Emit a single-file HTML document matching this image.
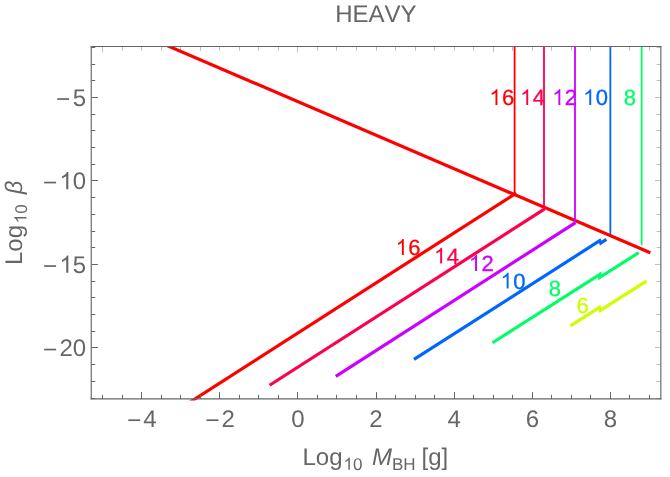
<!DOCTYPE html><html><head><meta charset="utf-8"><style>html,body{margin:0;padding:0;background:#fff;overflow:hidden;}svg{display:block;position:absolute;left:0;top:0;will-change:transform;}text{font-family:"Liberation Sans",sans-serif;text-rendering:geometricPrecision;font-kerning:none;}</style></head><body>
<svg width="670" height="477" viewBox="0 0 670 477">
<rect width="670" height="477" fill="#fff"/>
<defs><clipPath id="c"><rect x="91.3" y="45.9" width="569.4000000000001" height="354.6"/></clipPath></defs>
<g clip-path="url(#c)" fill="none" stroke-linejoin="miter" stroke-miterlimit="4" stroke-linecap="butt">
<path d="M610.35 40V234.90" stroke="#0066ff" stroke-width="1.8"/>
<path d="M641.65 40V245.3" stroke="#00ff66" stroke-width="1.8"/>
<path d="M150 38.21L650.3 252.83" stroke="#ff0000" stroke-width="3.2"/>
<path d="M180 408.58L516.2 193.08" stroke="#ff0000" stroke-width="3.2"/>
<path d="M514.6 40V194.10" stroke="#ff0000" stroke-width="1.8"/>
<path d="M269.6 385.25L544.7 208.91" stroke="#ff004d" stroke-width="3.2"/>
<path d="M544 40V209.16" stroke="#ff004d" stroke-width="1.8"/>
<path d="M335.8 376.3L575.5 222.65" stroke="#cc00ff" stroke-width="3.2"/>
<path d="M575 40V222.17" stroke="#cc00ff" stroke-width="1.8"/>
<path d="M414 359.4L599.7 240.74L600.7 243.10L606.4 239.46" stroke="#0066ff" stroke-width="3.2"/>
<path d="M492.5 342.75L599.8 274.45L599.8 277.45L638.7 252.69" stroke="#00ff66" stroke-width="3.2"/>
<path d="M570.4 325.8L599.5 307.28L600.3 310.47L646.4 281.13" stroke="#ccff00" stroke-width="3.2"/>
</g>
<g stroke="#666666" fill="none">
<path d="M91.25 46V399.55" stroke-width="1.15"/><path d="M90.7 398.95H661.45" stroke-width="1.25"/><path d="M90.7 46.5H661.4" stroke-width="1.0"/><path d="M660.85 46V399.5" stroke-width="1.15"/>
<path d="M102.50 399v-4.2M122.50 399v-4.2M141.50 399v-6.8999999999999995M161.50 399v-4.2M180.50 399v-4.2M200.50 399v-4.2M219.50 399v-6.8999999999999995M239.50 399v-4.2M258.50 399v-4.2M278.50 399v-4.2M297.50 399v-6.8999999999999995M317.50 399v-4.2M336.50 399v-4.2M356.50 399v-4.2M376.50 399v-6.8999999999999995M395.50 399v-4.2M415.50 399v-4.2M434.50 399v-4.2M454.50 399v-6.8999999999999995M473.50 399v-4.2M493.50 399v-4.2M512.50 399v-4.2M532.50 399v-6.8999999999999995M551.50 399v-4.2M571.50 399v-4.2M590.50 399v-4.2M610.50 399v-6.8999999999999995M629.50 399v-4.2M649.50 399v-4.2" stroke-width="1.0"/>
<path d="M102.50 46.4v5.90M122.50 46.4v4.40M141.50 46.4v4.40M161.50 46.4v4.40M180.50 46.4v4.40M200.50 46.4v4.40M219.50 46.4v4.40M239.50 46.4v4.40M258.50 46.4v4.40M278.50 46.4v4.40M297.50 46.4v5.90M317.50 46.4v4.40M336.50 46.4v4.40M356.50 46.4v4.40M376.50 46.4v4.40M395.50 46.4v4.40M415.50 46.4v4.40M434.50 46.4v4.40M454.50 46.4v4.40M473.50 46.4v4.40M493.50 46.4v5.90M512.50 46.4v4.40M532.50 46.4v4.40M551.50 46.4v4.40M571.50 46.4v4.40M590.50 46.4v4.40M610.50 46.4v4.40M629.50 46.4v4.40M649.50 46.4v4.40" stroke-width="0.42"/>
<path d="M91.3 398.50h3.9M91.3 381.50h3.9M91.3 364.50h3.9M91.3 347.50h6.6M91.3 331.50h3.9M91.3 314.50h3.9M91.3 297.50h3.9M91.3 281.50h3.9M91.3 264.50h6.6M91.3 247.50h3.9M91.3 231.50h3.9M91.3 214.50h3.9M91.3 197.50h3.9M91.3 180.50h6.6M91.3 164.50h3.9M91.3 147.50h3.9M91.3 130.50h3.9M91.3 114.50h3.9M91.3 97.50h6.6M91.3 80.50h3.9M91.3 64.50h3.9M91.3 47.50h3.9" stroke-width="1.0"/>
<path d="M660.7 398.50h-4.10M660.7 381.50h-4.10M660.7 364.50h-4.10M660.7 347.50h-5.70M660.7 331.50h-4.10M660.7 314.50h-4.10M660.7 297.50h-4.10M660.7 281.50h-4.10M660.7 264.50h-5.70M660.7 247.50h-4.10M660.7 231.50h-4.10M660.7 214.50h-4.10M660.7 197.50h-4.10M660.7 180.50h-5.70M660.7 164.50h-4.10M660.7 147.50h-4.10M660.7 130.50h-4.10M660.7 114.50h-4.10M660.7 97.50h-5.70M660.7 80.50h-4.10M660.7 64.50h-4.10M660.7 47.50h-4.10" stroke-width="0.42"/>
</g>
<g fill="#666666" font-size="24px">
<rect x="128.3" y="419.35" width="11.9" height="1.7"/>
<text x="143.35" y="427.00" font-size="24px">4</text>
<rect x="206.5" y="419.35" width="11.9" height="1.7"/>
<text x="221.49" y="427.00" font-size="24px">2</text>
<text x="291.23" y="427.00" font-size="24px">0</text>
<text x="369.37" y="427.00" font-size="24px">2</text>
<text x="447.51" y="427.00" font-size="24px">4</text>
<text x="525.65" y="427.00" font-size="24px">6</text>
<text x="603.79" y="427.00" font-size="24px">8</text>
<rect x="57.2" y="98.20" width="11.9" height="1.7"/>
<text x="72.75" y="105.85" font-size="24px">5</text>
<rect x="44.2" y="181.70" width="11.9" height="1.7"/>
<path transform="translate(59.40,189.35) scale(0.011719,-0.011719)" d="M763 0H583V1147Q518 1085 412.5 1023T223 930V1104Q374 1175 487 1276T647 1472H763Z"/><text x="72.75" y="189.35" font-size="24px">0</text>
<rect x="44.2" y="265.20" width="11.9" height="1.7"/>
<path transform="translate(59.40,272.85) scale(0.011719,-0.011719)" d="M763 0H583V1147Q518 1085 412.5 1023T223 930V1104Q374 1175 487 1276T647 1472H763Z"/><text x="72.75" y="272.85" font-size="24px">5</text>
<rect x="44.2" y="348.70" width="11.9" height="1.7"/>
<text x="59.40" y="356.35" font-size="24px">2</text><text x="72.75" y="356.35" font-size="24px">0</text>
<text x="375.9" y="22.2" text-anchor="middle">HEAVY</text>
<text x="302.5" y="465.4">Log</text><path transform="translate(343.50,469.80) scale(0.008301,-0.008301)" d="M763 0H583V1147Q518 1085 412.5 1023T223 930V1104Q374 1175 487 1276T647 1472H763Z"/><text x="352.95" y="469.80" font-size="17px">0</text>
<text x="372" y="465.4" font-style="italic">M</text><text x="392" y="469.6" font-size="17px">BH</text><text x="421.5" y="465.4">[g]</text>
<g transform="translate(22,265) rotate(-90)"><text x="0" y="0">Log</text><path transform="translate(41.70,4.50) scale(0.008301,-0.008301)" d="M763 0H583V1147Q518 1085 412.5 1023T223 930V1104Q374 1175 487 1276T647 1472H763Z"/><text x="51.15" y="4.50" font-size="17px">0</text><text x="70.8" y="0" font-style="italic">β</text></g>
</g>
<g font-size="22px">
<path transform="translate(395.61,254.90) scale(0.010742,-0.010742)" d="M763 0H583V1147Q518 1085 412.5 1023T223 930V1104Q374 1175 487 1276T647 1472H763Z" fill="#ff0000" stroke="#ff0000" stroke-width="0.3"/><text x="408.35" y="254.90" font-size="22px" fill="#ff0000" stroke="#ff0000" stroke-width="0.3">6</text>
<path transform="translate(433.91,263.50) scale(0.010742,-0.010742)" d="M763 0H583V1147Q518 1085 412.5 1023T223 930V1104Q374 1175 487 1276T647 1472H763Z" fill="#ff004d" stroke="#ff004d" stroke-width="0.3"/><text x="446.65" y="263.50" font-size="22px" fill="#ff004d" stroke="#ff004d" stroke-width="0.3">4</text>
<path transform="translate(468.81,270.90) scale(0.010742,-0.010742)" d="M763 0H583V1147Q518 1085 412.5 1023T223 930V1104Q374 1175 487 1276T647 1472H763Z" fill="#cc00ff" stroke="#cc00ff" stroke-width="0.3"/><text x="481.55" y="270.90" font-size="22px" fill="#cc00ff" stroke="#cc00ff" stroke-width="0.3">2</text>
<path transform="translate(500.41,288.50) scale(0.010742,-0.010742)" d="M763 0H583V1147Q518 1085 412.5 1023T223 930V1104Q374 1175 487 1276T647 1472H763Z" fill="#0066ff" stroke="#0066ff" stroke-width="0.3"/><text x="513.15" y="288.50" font-size="22px" fill="#0066ff" stroke="#0066ff" stroke-width="0.3">0</text>
<text x="548.78" y="295.90" font-size="22px" fill="#00ff66" stroke="#00ff66" stroke-width="0.3">8</text>
<text x="576.38" y="313.40" font-size="22px" fill="#ccff00" stroke="#ccff00" stroke-width="0.3">6</text>
<path transform="translate(489.21,105.00) scale(0.010742,-0.010742)" d="M763 0H583V1147Q518 1085 412.5 1023T223 930V1104Q374 1175 487 1276T647 1472H763Z" fill="#ff0000" stroke="#ff0000" stroke-width="0.3"/><text x="501.95" y="105.00" font-size="22px" fill="#ff0000" stroke="#ff0000" stroke-width="0.3">6</text>
<path transform="translate(520.01,105.00) scale(0.010742,-0.010742)" d="M763 0H583V1147Q518 1085 412.5 1023T223 930V1104Q374 1175 487 1276T647 1472H763Z" fill="#ff004d" stroke="#ff004d" stroke-width="0.3"/><text x="532.75" y="105.00" font-size="22px" fill="#ff004d" stroke="#ff004d" stroke-width="0.3">4</text>
<path transform="translate(552.11,105.00) scale(0.010742,-0.010742)" d="M763 0H583V1147Q518 1085 412.5 1023T223 930V1104Q374 1175 487 1276T647 1472H763Z" fill="#cc00ff" stroke="#cc00ff" stroke-width="0.3"/><text x="564.85" y="105.00" font-size="22px" fill="#cc00ff" stroke="#cc00ff" stroke-width="0.3">2</text>
<path transform="translate(583.01,105.00) scale(0.010742,-0.010742)" d="M763 0H583V1147Q518 1085 412.5 1023T223 930V1104Q374 1175 487 1276T647 1472H763Z" fill="#0066ff" stroke="#0066ff" stroke-width="0.3"/><text x="595.75" y="105.00" font-size="22px" fill="#0066ff" stroke="#0066ff" stroke-width="0.3">0</text>
<text x="623.78" y="105.00" font-size="22px" fill="#00ff66" stroke="#00ff66" stroke-width="0.3">8</text>
</g>
</svg></body></html>
